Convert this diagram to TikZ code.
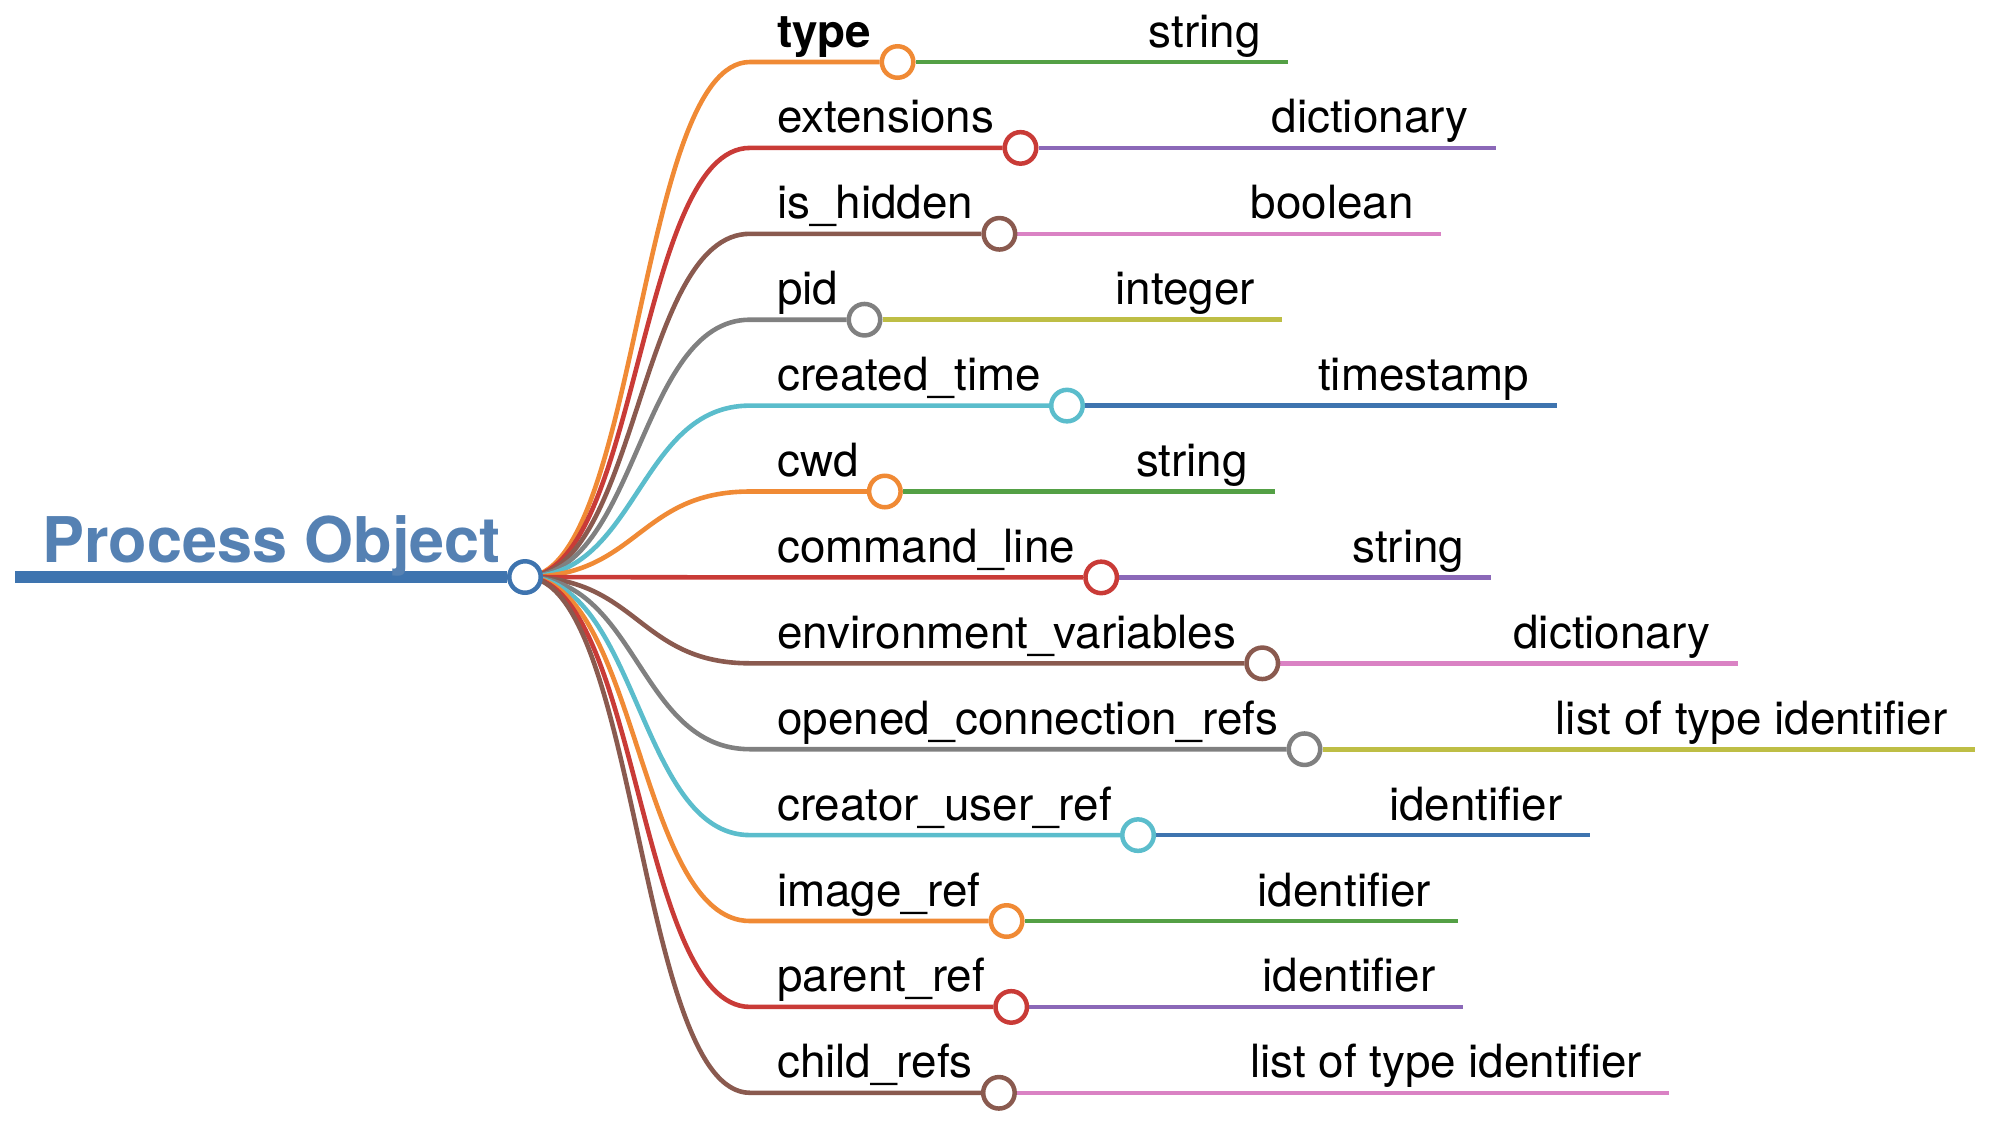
\documentclass[tikz,border=0pt]{standalone}
\usepackage{fontspec}
\setmainfont{TeX Gyre Heros}
\usetikzlibrary{backgrounds}
\definecolor{cblue}{HTML}{3E74AF}
\definecolor{roottext}{HTML}{5581B3}
\definecolor{corange}{HTML}{F08A35}
\definecolor{cgreen}{HTML}{54A045}
\definecolor{cred}{HTML}{C93B37}
\definecolor{cpurple}{HTML}{8B68B8}
\definecolor{cbrown}{HTML}{8A5A4F}
\definecolor{cpink}{HTML}{DA82C4}
\definecolor{cgray}{HTML}{808080}
\definecolor{colive}{HTML}{BEBE45}
\definecolor{ccyan}{HTML}{5BBDCC}
\begin{document}
\begin{tikzpicture}[x=1pt,y=-1pt,
  lbl/.style={inner sep=0pt, anchor=base west, font=\fontsize{45.8}{55}\selectfont},
  dot/.style={circle, minimum size=31.5pt, inner sep=0pt, line width=4.5pt, fill=white},
  link/.style={line width=4.6pt}]
\useasboundingbox (0,0) rectangle (2002,1120);
\node[lbl, font=\bfseries\fontsize{63}{70}\selectfont, text=roottext] (root) at (42,562) {Process Object};
\node[dot, draw=cblue] (rc) at (525,577) {};
\coordinate (r0) at (15,577);
\begin{scope}[on background layer]
\draw[cblue, line width=11.5pt] (r0) -- (rc);
\end{scope}
\foreach \i/\nm/\ty/\ca/\cb in {
  0/{\textbf{type}}/string/corange/cgreen,
  1/extensions/dictionary/cred/cpurple,
  2/is\_hidden/boolean/cbrown/cpink,
  3/pid/integer/cgray/colive,
  4/created\_time/timestamp/ccyan/cblue,
  5/cwd/string/corange/cgreen,
  6/command\_line/string/cred/cpurple,
  7/environment\_variables/dictionary/cbrown/cpink,
  8/opened\_connection\_refs/list of type identifier/cgray/colive,
  9/creator\_user\_ref/identifier/ccyan/cblue,
  10/image\_ref/identifier/corange/cgreen,
  11/parent\_ref/identifier/cred/cpurple,
  12/child\_refs/list of type identifier/cbrown/cpink}{
  \pgfmathsetmacro\y{62+85.9*\i}
  \coordinate (s\i) at (750,\y);
  \node[lbl] (n\i) at (777,\y-15) {\nm};
  \path (n\i.base east |- s\i) ++(26,0) node[dot, draw=\ca] (c\i) {};
  \path (c\i.center) ++(224,0) coordinate (j\i);
  \node[lbl] (t\i) at ([shift={(27,-15)}]j\i) {\ty};
  \path (t\i.base east |- j\i) ++(27,0) coordinate (e\i);
  \begin{scope}[on background layer]
    \draw[link, \ca] (rc.center) .. controls (638,577) and (638,\y) .. (s\i) -- (c\i);
    \draw[link, \cb] (c\i) -- (j\i) -- (e\i);
  \end{scope}
}
\end{tikzpicture}
\end{document}
